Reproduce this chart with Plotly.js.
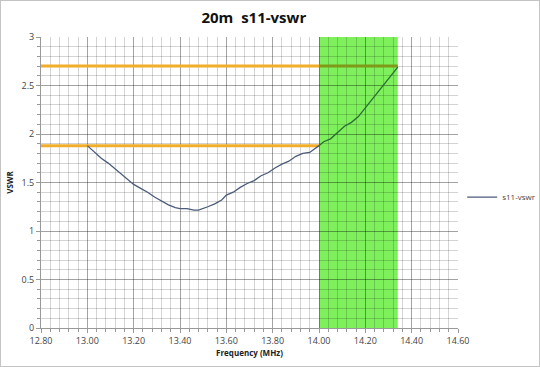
<!DOCTYPE html>
<html>
<head>
<meta charset="utf-8">
<script src="https://cdn.plot.ly/plotly-3.0.1.min.js"></script>
<style>
html,body{margin:0;padding:0;background:#fff;}
#wrap{width:540px;height:367px;box-sizing:border-box;border:1px solid #c4c4c4;}
#chart{width:538px;height:365px;}
</style>
</head>
<body>
<div id="wrap"><div id="chart"></div></div>
<script>
// Frequency (MHz) and measured VSWR
const freq = [13.00,13.03,13.06,13.09,13.12,13.15,13.18,13.20,13.23,13.26,13.29,13.32,13.35,13.38,13.40,13.43,13.46,13.48,13.50,13.52,13.55,13.58,13.60,13.63,13.66,13.69,13.72,13.75,13.78,13.81,13.84,13.87,13.90,13.93,13.96,14.00,14.02,14.05,14.08,14.11,14.14,14.17,14.20,14.23,14.26,14.29,14.32,14.34];
const vswr = [1.88,1.81,1.75,1.70,1.64,1.59,1.53,1.48,1.44,1.40,1.35,1.31,1.27,1.24,1.23,1.23,1.215,1.215,1.23,1.25,1.28,1.32,1.37,1.40,1.45,1.49,1.52,1.57,1.60,1.65,1.69,1.72,1.77,1.80,1.81,1.88,1.92,1.95,2.02,2.08,2.12,2.18,2.27,2.36,2.45,2.54,2.62,2.69];
// band edges (MHz) and reference VSWR levels
const bandStart = 14.00, bandEnd = 14.34;
const levelHigh = 2.70, levelLow = 1.88;
const xMin = 12.80, xMax = 14.60, yMin = 0, yMax = 3;

// split series at band edge (for colour inside the green band)
const outF = [], outV = [], inF = [], inV = [];
freq.forEach(function(f, i){
  if (f <= bandStart) { outF.push(f); outV.push(vswr[i]); }
  if (f >= bandStart) { inF.push(f); inV.push(vswr[i]); }
});

const orange = '#f0ae2a', orangeInBand = '#7f9a18';
const traces = [
  {x:[xMin, bandStart], y:[levelHigh, levelHigh], mode:'lines', line:{color:orange, width:3}, showlegend:false, hoverinfo:'skip'},
  {x:[bandStart, bandEnd], y:[levelHigh, levelHigh], mode:'lines', line:{color:orangeInBand, width:3}, showlegend:false, hoverinfo:'skip'},
  {x:[xMin, bandStart], y:[levelLow, levelLow], mode:'lines', line:{color:orange, width:3}, showlegend:false, hoverinfo:'skip'},
  {x:inF, y:inV, mode:'lines', line:{color:'#2a6e34', width:1.3}, showlegend:false, hoverinfo:'skip'},
  {x:outF, y:outV, mode:'lines', name:'s11-vswr', line:{color:'#4b5b7a', width:1.3}}
];

const fontFam = '"Open Sans", "Liberation Sans", sans-serif';
const layout = {
  width:538, height:365,
  margin:{l:40, r:81, t:36, b:38, autoexpand:false},
  paper_bgcolor:'#fff', plot_bgcolor:'#fff',
  font:{family:fontFam, color:'#444', size:9},
  title:{text:'<b>20m  s11-vswr</b>', font:{size:15, color:'#111', family:fontFam}, x:0.47, xanchor:'center', y:0.955, yanchor:'middle'},
  xaxis:{range:[xMin,xMax], dtick:0.2, tick0:12.8, tickformat:'.2f', showgrid:true, gridcolor:'rgba(0,0,0,0.36)', gridwidth:1,
    minor:{dtick:0.04, showgrid:true, gridcolor:'rgba(0,0,0,0.17)', ticks:'outside', ticklen:3, tickcolor:'#999'},
    ticks:'outside', ticklen:4, tickcolor:'#999', showline:true, linecolor:'#999', zeroline:false,
    tickfont:{size:9, color:'#444'},
    title:{text:'<b>Frequency (MHz)</b>', font:{size:8, color:'#222'}, standoff:4}},
  yaxis:{range:[yMin,yMax], dtick:0.5, showgrid:true, gridcolor:'rgba(0,0,0,0.36)', gridwidth:1,
    minor:{dtick:0.1, showgrid:true, gridcolor:'rgba(0,0,0,0.17)', ticks:'outside', ticklen:3, tickcolor:'#999'},
    ticks:'outside', ticklen:4, tickcolor:'#999', showline:true, linecolor:'#999', zeroline:false,
    tickfont:{size:9, color:'#444'},
    title:{text:'<b>VSWR</b>', font:{size:8, color:'#222'}, standoff:6}},
  shapes:[
    {type:'rect', xref:'x', yref:'y', x0:bandStart, x1:bandEnd, y0:yMin, y1:yMax, fillcolor:'rgb(126,240,92)', opacity:1, line:{width:0}, layer:'below'}
  ],
  legend:{x:1.01, y:0.45, xanchor:'left', yanchor:'middle', font:{size:8, color:'#444'}, bgcolor:'rgba(0,0,0,0)', itemwidth:30, tracegroupgap:0}
};

Plotly.newPlot('chart', traces, layout, {displayModeBar:false, staticPlot:true});
</script>
</body>
</html>
